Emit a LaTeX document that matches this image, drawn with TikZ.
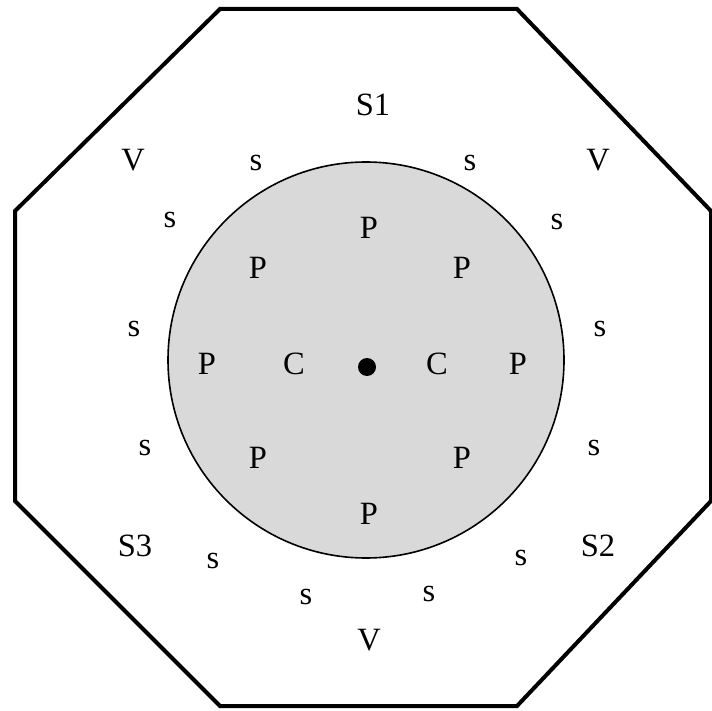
\documentclass[tikz,border=0pt]{standalone}
\usepackage{fontspec}
\setmainfont{Liberation Serif}
\usetikzlibrary{positioning}
\tikzset{
  lbl/.style={font=\fontsize{32.5}{38}\selectfont, inner sep=0pt}, % every letter
  wall/.style={draw, line width=4pt, line join=miter}, % the octagon
  core/.style={draw, line width=1.6pt, fill=gray!30}, % the grey disc
}

\begin{document}
\begin{tikzpicture}[x=1pt, y=-1pt]
    \useasboundingbox (0,0) rectangle (712,711);

    % outer octagon
    \draw[wall] (220,9) -- (517,9) -- (711,211) -- (711,501) -- (517,706)
    -- (220,706) -- (15,501) -- (15,211) -- cycle;

    % disc and centre
    \draw[core] (366,360) circle (198);
    \fill (367,367) circle (9);

    % letters inside the disc
    \node[lbl] (p_top) at (369,228) {P};
    \node[lbl] (p_tl) at (258,268) {P};
    \node[lbl] (p_tr) at (462,268) {P};
    \node[lbl] (p_left) at (207,364) {P};
    \node[lbl] (c_left) at (294,364) {C};
    \node[lbl] (c_right) at (437,364) {C};
    \node[lbl] (p_right) at (518,364) {P};
    \node[lbl] (p_bl) at (258,458) {P};
    \node[lbl] (p_br) at (462,458) {P};
    \node[lbl] (p_bot) at (369,514) {P};

    % letters round the disc
    \node[lbl] (s1) at (373,105) {S1};
    \node[lbl] (s2) at (598,546) {S2};
    \node[lbl] (s3) at (135,546) {S3};
    \node[lbl] (v_left) at (133,160) {V};
    \node[lbl] (v_right) at (598,160) {V};
    \node[lbl] (v_bot) at (369,640) {V};

    \node[lbl] (s_a) at (256,163) {s};
    \node[lbl] (s_b) at (470,163) {s};
    \node[lbl] (s_c) at (170,220) {s};
    \node[lbl] (s_d) at (557,222) {s};
    \node[lbl] (s_e) at (134,329) {s};
    \node[lbl] (s_f) at (600,329) {s};
    \node[lbl] (s_g) at (145,448) {s};
    \node[lbl] (s_h) at (594,448) {s};
    \node[lbl] (s_i) at (213,561) {s};
    \node[lbl] (s_j) at (521,558) {s};
    \node[lbl] (s_k) at (306,597) {s};
    \node[lbl] (s_l) at (429,594) {s};
\end{tikzpicture}
\end{document}
